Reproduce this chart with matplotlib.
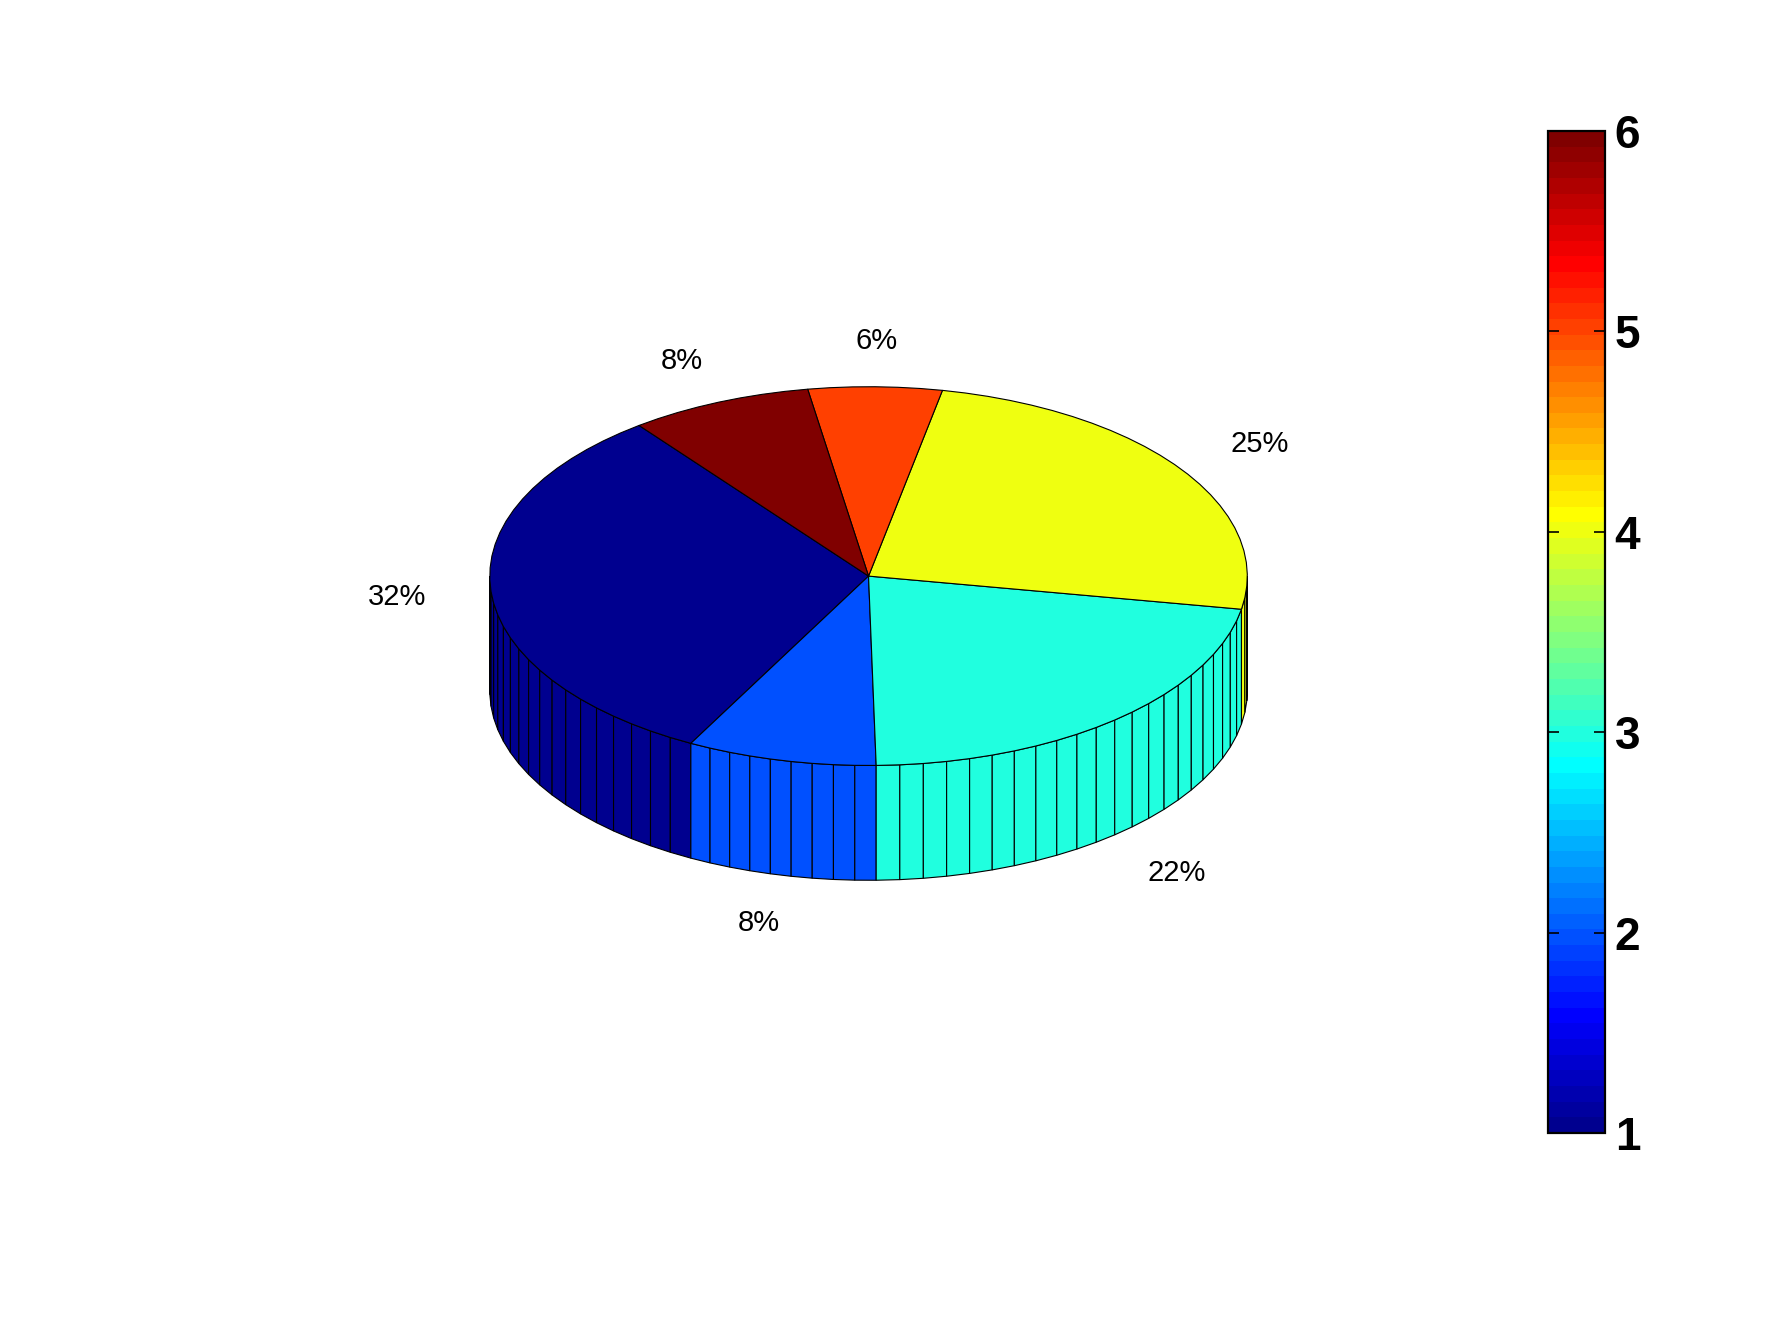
#import libraries
import numpy as np
import matplotlib
matplotlib.use('Agg')
from matplotlib import pyplot as plt
from matplotlib.colors import ListedColormap, Normalize
from matplotlib.cm import ScalarMappable
from matplotlib.patches import Polygon

#slice values and their colour index 1..6
values = [31.9, 8.1, 21.9, 24.7, 5.7, 7.8]
color_index = [1, 2, 3, 4, 5, 6]
cbar_ticks = [1, 2, 3, 4, 5, 6]

#matlab style jet colormap with 64 rows
def matlab_jet(n=64):
    m = int(np.ceil(n / 4))
    u = np.concatenate([np.arange(1, m + 1) / m, np.ones(m - 1), np.arange(m, 0, -1) / m])
    g = int(np.ceil(m / 2)) - (1 if n % 4 == 1 else 0) + np.arange(1, len(u) + 1)
    r = g + m
    b = g - m
    J = np.zeros((n, 3))
    J[r[r <= n] - 1, 0] = u[r <= n]
    J[g[g <= n] - 1, 1] = u[g <= n]
    J[b[b >= 1] - 1, 2] = u[b >= 1]
    return ListedColormap(J)

cmap = matlab_jet(64)
norm = Normalize(1, 6)

#view of the 3d pie: tilt of the top ellipse and height of the cylinder
tilt = np.sin(np.radians(30))
height = 0.35 * np.cos(np.radians(30))
start = 127.3

fig = plt.figure(figsize=(17.78, 13.34), dpi=100)
ax = fig.add_axes([0, 0, 1, 1])
ax.set_xlim(-2.293, 2.401)
ax.set_ylim(-2.001, 1.521)
ax.axis('off')

fracs = np.array(values) / np.sum(values)
edges = start + 360 * np.concatenate([[0], np.cumsum(fracs)])

#side facets first (only the front half is visible)
tops = []
for i, f in enumerate(fracs):
    n = max(1, int(np.ceil(100 * f)))
    ang = np.linspace(edges[i], edges[i + 1], n + 1)
    col = cmap(norm(color_index[i]))
    for k in range(n):
        a0 = max(ang[k], 180)
        a1 = min(ang[k + 1], 360)
        if a1 <= a0:
            continue
        t = np.radians([a0, a1])
        xs = np.cos(t)
        ys = tilt * np.sin(t)
        quad = [(xs[0], ys[0]), (xs[1], ys[1]), (xs[1], ys[1] - height), (xs[0], ys[0] - height)]
        ax.add_patch(Polygon(quad, closed=True, facecolor=col, edgecolor='black', linewidth=0.8))
    t = np.radians(ang)
    pts = [(0, 0)] + list(zip(np.cos(t), tilt * np.sin(t)))
    tops.append((pts, col))

#top faces
for pts, col in tops:
    ax.add_patch(Polygon(pts, closed=True, facecolor=col, edgecolor='black', linewidth=0.8))

#percent labels
for i, f in enumerate(fracs):
    mid = np.radians((edges[i] + edges[i + 1]) / 2)
    x = 1.25 * np.cos(mid)
    y = 1.25 * tilt * np.sin(mid)
    if np.sin(mid) < -0.3:
        y = y - height
    ax.text(x, y - 0.005, '%d%%' % round(100 * f), ha='center', va='center',
            fontsize=21, family='Liberation Sans')

#colorbar
cax = fig.add_axes([1548 / 1778, 201 / 1334, 57 / 1778, 1002 / 1334])
sm = ScalarMappable(norm=norm, cmap=cmap)
cb = fig.colorbar(sm, cax=cax, ticks=cbar_ticks)
cb.outline.set_linewidth(1.6)
cax.tick_params(direction='in', length=8, width=1.2, left=True, right=True,
                labelleft=False, labelright=True, pad=7)
for lab in cax.get_yticklabels():
    lab.set_fontsize(33)
    lab.set_fontweight('bold')
    lab.set_family('Liberation Sans')

plt.savefig('out.png', dpi=100)
